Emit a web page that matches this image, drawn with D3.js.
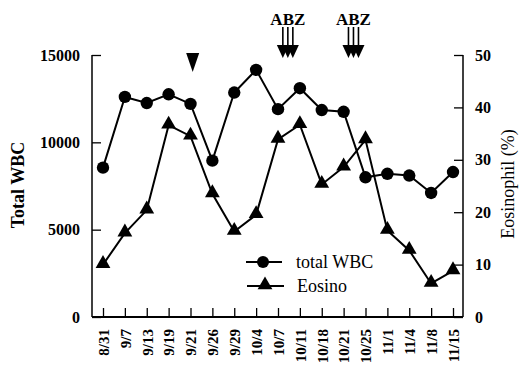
<!DOCTYPE html>
<html>
<head>
<meta charset="utf-8">
<script src="https://cdn.jsdelivr.net/npm/d3@7"></script>
<style>
  body { margin: 0; background: #fff; }
</style>
</head>
<body>
<div id="chart"></div>
<script>
  var dates = ["8/31", "9/7", "9/13", "9/19", "9/21", "9/26", "9/29", "10/4", "10/7",
               "10/11", "10/18", "10/21", "10/25", "11/1", "11/4", "11/8", "11/15"];
  var wbc = [8550, 12600, 12250, 12750, 12200, 8950, 12850, 14150, 11900,
             13100, 11850, 11750, 8000, 8200, 8100, 7100, 8300];
  var eosino = [10, 16, 20.4, 36.6, 34.5, 23.5, 16.3, 19.5, 33.9,
                36.7, 25.3, 28.6, 33.8, 16.5, 12.7, 6.4, 8.8];
  var wbcTicks = [0, 5000, 10000, 15000];
  var eoTicks = [0, 10, 20, 30, 40, 50];
  // markers above the plot: index position between dates
  var singleArrows = [4.1];
  var abzArrows = [8.45, 11.45];

  var W = 528, H = 374;
  var pLeft = 92, pRight = 463, pTop = 55, pBottom = 317;
  var serif = "'Liberation Serif', 'DejaVu Serif', serif";

  var svg = d3.select("#chart").append("svg")
    .attr("width", W).attr("height", H)
    .attr("font-family", serif);

  var x = d3.scalePoint().domain(dates).range([103, 453]);
  var xi = d3.scaleLinear().domain([0, dates.length - 1]).range([103, 453]);
  var yL = d3.scaleLinear().domain([0, 15000]).range([pBottom, pTop]);
  var yR = d3.scaleLinear().domain([0, 50]).range([pBottom, pTop]);

  // left axis
  var gl = svg.append("g")
    .attr("transform", "translate(" + pLeft + ",0)")
    .call(d3.axisLeft(yL).tickValues(wbcTicks).tickSize(-9).tickPadding(12).tickFormat(d3.format("d")));
  gl.attr("font-family", serif);
  gl.selectAll("text").attr("font-size", 16).attr("font-weight", "bold");

  // right axis
  var gr = svg.append("g")
    .attr("transform", "translate(" + pRight + ",0)")
    .call(d3.axisRight(yR).tickValues(eoTicks).tickSize(-9).tickPadding(12));
  gr.attr("font-family", serif);
  gr.selectAll("text").attr("font-size", 16).attr("font-weight", "bold");

  // bottom axis
  var gb = svg.append("g")
    .attr("transform", "translate(0," + pBottom + ")")
    .call(d3.axisBottom(x).tickSize(-9).tickPadding(0));
  gb.attr("font-family", serif);
  gb.select(".domain").attr("d", "M" + pLeft + ",0H" + pRight).attr("stroke-width", 2);
  gb.selectAll("text")
    .attr("font-size", 15).attr("font-weight", "bold")
    .attr("text-anchor", "end")
    .attr("dy", "0.35em")
    .attr("transform", "translate(0,12) rotate(-90)")
    .attr("x", 0).attr("y", 0);

  svg.selectAll(".domain").attr("stroke", "#000");
  gl.select(".domain").attr("d", "M0," + pBottom + "V" + pTop).attr("stroke-width", 1.5);
  gr.select(".domain").attr("d", "M0," + pBottom + "V" + pTop).attr("stroke-width", 1.5);
  svg.selectAll(".tick line").attr("stroke", "#000").attr("stroke-width", 1.3);

  // axis titles
  svg.append("text")
    .attr("transform", "translate(24," + 185 + ") rotate(-90)")
    .attr("text-anchor", "middle")
    .attr("font-size", 18).attr("font-weight", "bold")
    .text("Total WBC");
  svg.append("text")
    .attr("transform", "translate(514," + 184 + ") rotate(-90)")
    .attr("text-anchor", "middle")
    .attr("font-size", 18)
    .text("Eosinophil (%)");

  // lines
  var lineW = d3.line().x(function(d, i) { return x(dates[i]); }).y(function(d) { return yL(d); });
  var lineE = d3.line().x(function(d, i) { return x(dates[i]); }).y(function(d) { return yR(d); });

  svg.append("path").datum(eosino).attr("d", lineE)
    .attr("fill", "none").attr("stroke", "#000").attr("stroke-width", 2);
  svg.append("path").datum(wbc).attr("d", lineW)
    .attr("fill", "none").attr("stroke", "#000").attr("stroke-width", 2);

  var tri = d3.symbol().type(d3.symbolTriangle).size(95);

  svg.selectAll(".eo").data(eosino).enter().append("path")
    .attr("d", tri)
    .attr("transform", function(d, i) { return "translate(" + x(dates[i]) + "," + (yR(d) - 1) + ")"; })
    .attr("fill", "#000");

  svg.selectAll(".wb").data(wbc).enter().append("circle")
    .attr("cx", function(d, i) { return x(dates[i]); })
    .attr("cy", function(d) { return yL(d); })
    .attr("r", 6.2)
    .attr("fill", "#000");

  // single arrowhead
  singleArrows.forEach(function(p) {
    var cx = xi(p);
    svg.append("path")
      .attr("d", "M" + (cx - 6.5) + ",53L" + (cx + 6.5) + ",53L" + cx + ",72Z")
      .attr("fill", "#000");
  });

  // ABZ triple arrows
  abzArrows.forEach(function(p) {
    var cx = xi(p);
    svg.append("text")
      .attr("x", cx).attr("y", 25)
      .attr("text-anchor", "middle")
      .attr("font-size", 17).attr("font-weight", "bold")
      .text("ABZ");
    [-5, 0, 5].forEach(function(dx) {
      svg.append("line")
        .attr("x1", cx + dx).attr("x2", cx + dx)
        .attr("y1", 27).attr("y2", 48)
        .attr("stroke", "#000").attr("stroke-width", 1.6);
      svg.append("path")
        .attr("d", "M" + (cx + dx - 6) + ",45L" + (cx + dx + 6) + ",45L" + (cx + dx) + ",58Z")
        .attr("fill", "#000");
    });
  });

  // legend
  var leg = svg.append("g");
  leg.append("line").attr("x1", 246).attr("x2", 282).attr("y1", 262).attr("y2", 262)
    .attr("stroke", "#000").attr("stroke-width", 2);
  leg.append("circle").attr("cx", 263).attr("cy", 262).attr("r", 6).attr("fill", "#000");
  leg.append("text").attr("x", 296).attr("y", 268).attr("font-size", 18).text("total WBC");
  leg.append("line").attr("x1", 247).attr("x2", 284).attr("y1", 286).attr("y2", 286)
    .attr("stroke", "#000").attr("stroke-width", 2);
  leg.append("path").attr("d", tri).attr("transform", "translate(265,285)").attr("fill", "#000");
  leg.append("text").attr("x", 297).attr("y", 292).attr("font-size", 18).text("Eosino");
</script>
</body>
</html>
